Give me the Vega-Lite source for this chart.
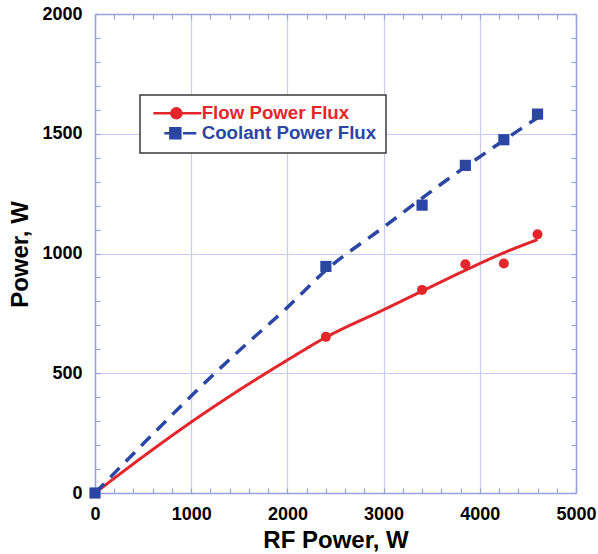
{
  "$schema": "https://vega.github.io/schema/vega-lite/v6.json",
  "width": 481,
  "height": 479,
  "autosize": "none",
  "padding": {"left": 95, "top": 14, "right": 22, "bottom": 61},
  "background": "white",
  "config": {
    "font": "Liberation Sans",
    "view": {"stroke": null}
  },
  "datasets": {
    "measured": [
      {"series": "Flow Power Flux", "rf": 0, "power": 0},
      {"series": "Flow Power Flux", "rf": 2400, "power": 652},
      {"series": "Flow Power Flux", "rf": 3400, "power": 848},
      {"series": "Flow Power Flux", "rf": 3850, "power": 955},
      {"series": "Flow Power Flux", "rf": 4250, "power": 958},
      {"series": "Flow Power Flux", "rf": 4600, "power": 1080},
      {"series": "Coolant Power Flux", "rf": 0, "power": 0},
      {"series": "Coolant Power Flux", "rf": 2400, "power": 946},
      {"series": "Coolant Power Flux", "rf": 3400, "power": 1202},
      {"series": "Coolant Power Flux", "rf": 3850, "power": 1368},
      {"series": "Coolant Power Flux", "rf": 4250, "power": 1475},
      {"series": "Coolant Power Flux", "rf": 4600, "power": 1582}
    ],
    "fit": [
      {"series": "Flow Power Flux", "rf": 0, "power": 0},
      {"series": "Flow Power Flux", "rf": 500, "power": 152},
      {"series": "Flow Power Flux", "rf": 1000, "power": 296},
      {"series": "Flow Power Flux", "rf": 1500, "power": 430},
      {"series": "Flow Power Flux", "rf": 2000, "power": 555},
      {"series": "Flow Power Flux", "rf": 2400, "power": 650},
      {"series": "Flow Power Flux", "rf": 3000, "power": 765},
      {"series": "Flow Power Flux", "rf": 3400, "power": 843},
      {"series": "Flow Power Flux", "rf": 3850, "power": 930},
      {"series": "Flow Power Flux", "rf": 4250, "power": 1003},
      {"series": "Flow Power Flux", "rf": 4600, "power": 1058},
      {"series": "Coolant Power Flux", "rf": 0, "power": 0},
      {"series": "Coolant Power Flux", "rf": 500, "power": 205},
      {"series": "Coolant Power Flux", "rf": 1000, "power": 405},
      {"series": "Coolant Power Flux", "rf": 1500, "power": 595},
      {"series": "Coolant Power Flux", "rf": 2000, "power": 775},
      {"series": "Coolant Power Flux", "rf": 2400, "power": 930},
      {"series": "Coolant Power Flux", "rf": 3000, "power": 1110},
      {"series": "Coolant Power Flux", "rf": 3430, "power": 1240},
      {"series": "Coolant Power Flux", "rf": 3660, "power": 1308},
      {"series": "Coolant Power Flux", "rf": 4116, "power": 1436},
      {"series": "Coolant Power Flux", "rf": 4600, "power": 1567}
    ]
  },
  "layer": [
    {
      "data": {"name": "fit"},
      "mark": {"type": "line", "interpolate": "monotone", "strokeCap": "butt"},
      "encoding": {
        "x": {
          "field": "rf", "type": "quantitative",
          "scale": {"domain": [0, 5000], "nice": false, "zero": false},
          "axis": {
            "orient": "top", "title": null, "labels": false, "grid": false,
            "values": [0,200,400,600,800,1000,1200,1400,1600,1800,2000,2200,2400,2600,2800,3000,3200,3400,3600,3800,4000,4200,4400,4600,4800,5000],
            "domainColor": "#97a2dc", "domainWidth": 1.5,
            "tickColor": "#97a2dc", "tickSize": -5, "tickWidth": 1.2
          }
        },
        "y": {
          "field": "power", "type": "quantitative",
          "scale": {"domain": [0, 2000], "nice": false, "zero": false},
          "axis": {
            "orient": "right", "title": null, "labels": false, "grid": false,
            "values": [0,100,200,300,400,500,600,700,800,900,1000,1100,1200,1300,1400,1500,1600,1700,1800,1900,2000],
            "domainColor": "#97a2dc", "domainWidth": 1.5,
            "tickColor": "#97a2dc", "tickSize": -5, "tickWidth": 1.2
          }
        },
        "detail": {"field": "series"},
        "stroke": {
          "condition": {"test": "datum.series === 'Coolant Power Flux'", "value": "#2b46a3"},
          "value": "#e3262b"
        },
        "strokeDash": {
          "condition": {"test": "datum.series === 'Coolant Power Flux'", "value": [13, 9]},
          "value": [1, 0]
        },
        "strokeWidth": {
          "condition": {"test": "datum.series === 'Coolant Power Flux'", "value": 3.5},
          "value": 3
        }
      }
    },
    {
      "data": {"name": "measured"},
      "mark": {"type": "point", "filled": true, "opacity": 1},
      "encoding": {
        "x": {
          "field": "rf", "type": "quantitative",
          "axis": {
            "orient": "bottom", "title": "RF Power, W",
            "values": [0,200,400,600,800,1000,1200,1400,1600,1800,2000,2200,2400,2600,2800,3000,3200,3400,3600,3800,4000,4200,4400,4600,4800,5000],
            "labelExpr": "datum.value % 1000 === 0 ? format(datum.value, 'd') : ''",
            "labelFontSize": 18, "labelFontWeight": "bold", "labelColor": "black",
            "labelPadding": 14, "labelFlush": false,
            "grid": true, "gridColor": "#c6ccef", "gridWidth": 1.2,
            "gridOpacity": {"condition": {"test": "datum.value % 1000 === 0", "value": 1}, "value": 0},
            "domainColor": "#97a2dc", "domainWidth": 1.5,
            "tickColor": "#97a2dc", "tickSize": -5, "tickWidth": 1.2,
            "titleFontSize": 24, "titleFontWeight": "bold", "titleColor": "black",
            "titleY": 47, "titleBaseline": "middle",
            "encoding": {"labels": {"dy": {"value": 3}}}
          }
        },
        "y": {
          "field": "power", "type": "quantitative",
          "axis": {
            "orient": "left", "title": "Power, W",
            "values": [0,100,200,300,400,500,600,700,800,900,1000,1100,1200,1300,1400,1500,1600,1700,1800,1900,2000],
            "labelExpr": "datum.value % 500 === 0 ? format(datum.value, 'd') : ''",
            "labelFontSize": 18, "labelFontWeight": "bold", "labelColor": "black",
            "labelPadding": 10, "labelFlush": false,
            "grid": true, "gridColor": "#c6ccef", "gridWidth": 1.2,
            "gridOpacity": {"condition": {"test": "datum.value % 500 === 0", "value": 1}, "value": 0},
            "domainColor": "#97a2dc", "domainWidth": 1.5,
            "tickColor": "#97a2dc", "tickSize": -5, "tickWidth": 1.2,
            "titleFontSize": 24, "titleFontWeight": "bold", "titleColor": "black",
            "titleX": -75, "titleY": 240, "titleAngle": -90, "titleAlign": "center", "titleBaseline": "middle",
            "encoding": {"labels": {"dx": {"value": -8}}}
          }
        },
        "shape": {
          "condition": {"test": "datum.series === 'Coolant Power Flux'", "value": "square"},
          "value": "circle"
        },
        "size": {
          "condition": {"test": "datum.series === 'Coolant Power Flux'", "value": 125},
          "value": 100
        },
        "color": {
          "field": "series", "type": "nominal",
          "scale": {"domain": ["Flow Power Flux", "Coolant Power Flux"], "range": ["#e3262b", "#2b46a3"]},
          "legend": {
            "orient": "none", "legendX": 45, "legendY": 81,
            "title": null,
            "fillColor": "white", "strokeColor": "#3a3a3a",
            "padding": 9,
            "labelFont": "Liberation Sans", "labelFontSize": 18.7, "labelFontWeight": "bold",
            "labelLimit": 400, "labelOffset": 34,
            "symbolSize": 144, "rowPadding": -3,
            "encoding": {
              "legend": {"strokeWidth": {"value": 1.5}},
              "symbols": {
                "shape": {
                  "condition": {"test": "datum.value === 'Flow Power Flux'", "value": "M-0.83,0H7.17M3.83,0A0.83,0.83 0 1,1 2.17,0A0.83,0.83 0 1,1 3.83,0Z"},
                  "value": "M1,0H2.1M4.1,0H6.33M2,-0.83H3.66V0.83H2Z"
                },
                "stroke": {
                  "condition": {"test": "datum.value === 'Flow Power Flux'", "value": "#e3262b"},
                  "value": "#2b46a3"
                },
                "fill": {
                  "condition": {"test": "datum.value === 'Flow Power Flux'", "value": "#e3262b"},
                  "value": "#2b46a3"
                },
                "strokeWidth": {"value": 2.5},
                "opacity": {"value": 1}
              },
              "labels": {
                "fill": {
                  "condition": {"test": "datum.value === 'Flow Power Flux'", "value": "#e3262b"},
                  "value": "#2b46a3"
                }
              }
            }
          }
        }
      }
    }
  ],
  "resolve": {"axis": {"x": "independent", "y": "independent"}}
}
